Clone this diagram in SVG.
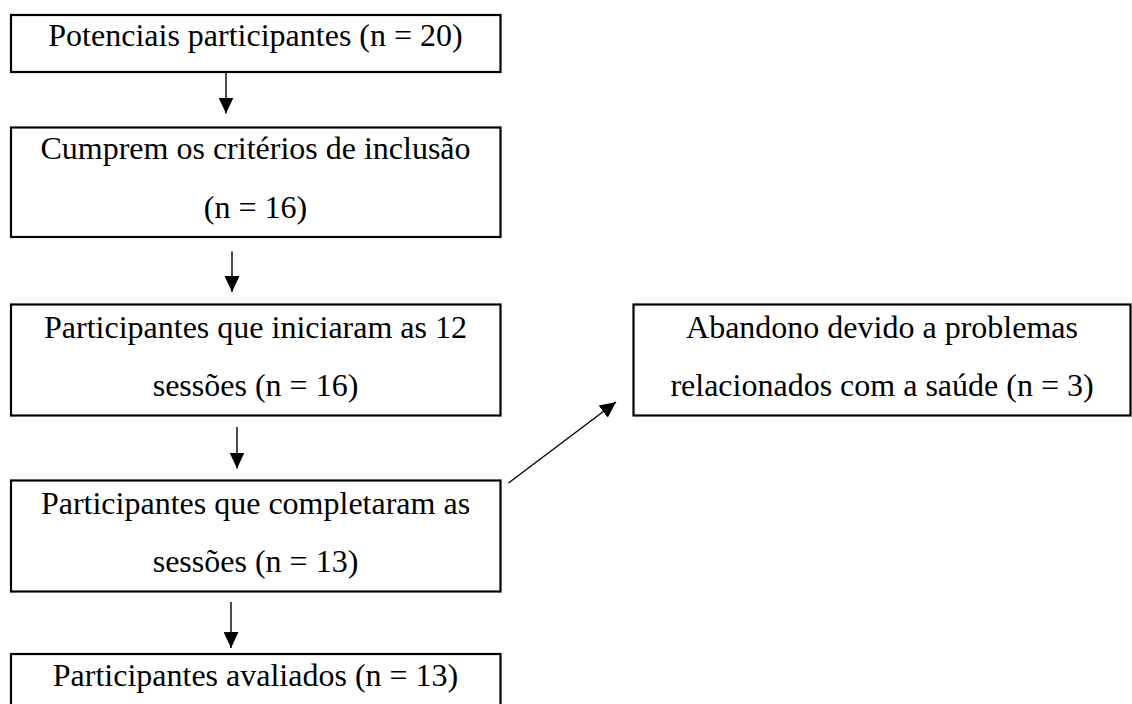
<svg xmlns="http://www.w3.org/2000/svg" width="1132" height="704" viewBox="0 0 1132 704">
<style>
.box{fill:#fff;stroke:#000;stroke-width:2.2}
.t{font-family:"Liberation Serif","Times New Roman",serif;font-size:32px;fill:#000;text-anchor:middle}
.c{stroke:#000;stroke-width:1.4;fill:none}
</style>
<defs>
<marker id="ah" markerUnits="userSpaceOnUse" markerWidth="16" markerHeight="15" refX="16" refY="7.5" orient="auto" viewBox="0 0 16 15">
<path d="M0,0 L16,7.5 L0,15 Z" fill="#000"/>
</marker>
</defs>
<rect width="1132" height="704" fill="#fff"/>
<g id="n1">
<rect class="box" x="11" y="15" width="489.5" height="57"/>
<text class="t" x="255.5" y="45.5">Potenciais participantes (n = 20)</text>
</g>
<g id="n2">
<rect class="box" x="11" y="127.5" width="489.5" height="109.5"/>
<text class="t" x="255.5" y="159">Cumprem os critérios de inclusão</text>
<text class="t" x="255.5" y="218">(n = 16)</text>
</g>
<g id="n3">
<rect class="box" x="11" y="304.5" width="489.5" height="111"/>
<text class="t" x="255.5" y="338">Participantes que iniciaram as 12</text>
<text class="t" x="255.5" y="396">sessões (n = 16)</text>
</g>
<g id="n4">
<rect class="box" x="11" y="480.5" width="489.5" height="111"/>
<text class="t" x="255.5" y="514">Participantes que completaram as</text>
<text class="t" x="255.5" y="572">sessões (n = 13)</text>
</g>
<g id="n5">
<rect class="box" x="11" y="654" width="489.5" height="70"/>
<text class="t" x="255.5" y="686">Participantes avaliados (n = 13)</text>
</g>
<g id="n6">
<rect class="box" x="633.5" y="304.5" width="497" height="111"/>
<text class="t" x="882" y="338">Abandono devido a problemas</text>
<text class="t" x="882" y="396">relacionados com a saúde (n = 3)</text>
</g>
<g id="connectors">
<line class="c" x1="226" y1="72" x2="226" y2="113.5" marker-end="url(#ah)"/>
<line class="c" x1="232" y1="251.5" x2="232" y2="292" marker-end="url(#ah)"/>
<line class="c" x1="237" y1="427" x2="237" y2="468.5" marker-end="url(#ah)"/>
<line class="c" x1="231" y1="602" x2="231" y2="648" marker-end="url(#ah)"/>
<line class="c" x1="508.5" y1="483" x2="616" y2="402" marker-end="url(#ah)"/>
</g>
</svg>
